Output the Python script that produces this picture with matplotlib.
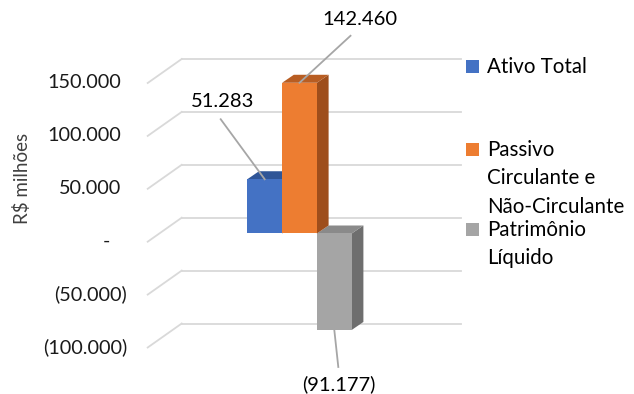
import matplotlib
matplotlib.use('Agg')
import matplotlib.pyplot as plt
from matplotlib.patches import Polygon, Rectangle

plt.rcParams['font.family'] = ['Lato', 'DejaVu Sans']

# dados (R$ milhões)
categorias = ['Ativo Total', 'Passivo\nCirculante e\nNão-Circulante', 'Patrimônio\nLíquido']
valores = [51283, 142460, -91177]
rotulos = ['51.283', '142.460', '(91.177)']
ticks = [150000, 100000, 50000, 0, -50000, -100000]
tick_labels = ['150.000', '100.000', '50.000', '-', '(50.000)', '(100.000)']

cor_frente = ['#4472C4', '#ED7D31', '#A5A5A5']
cor_lado = ['#2E5597', '#9E4E1C', '#6E6E6E']
cor_topo = ['#2F5597', '#B85D22', '#8A8A8A']

W, H = 634, 394
U = 50000 / 52.9          # valor por pixel
Y0 = 233.5                # linha do zero no plano das barras (px)

fig = plt.figure(figsize=(W / 100, H / 100), dpi=100)
ax = fig.add_axes([0, 0, 1, 1])
ax.set_xlim(0, W)
ax.set_ylim(-(H - Y0) * U, Y0 * U)
ax.axis('off')

# parede do fundo e piso (efeito 3D)
fundo_x0, fundo_x1 = 181.7, 460.7
fundo_dy = 15.8 * U       # fundo acima do plano das barras
prof_dx, prof_dy = -34.0, -24.0 * U
grid = '#D9D9D9'
for t, lab in zip(ticks, tick_labels):
    yb = t + fundo_dy
    ax.plot([fundo_x0, fundo_x1], [yb, yb], color=grid, lw=1.3, zorder=1)
    ax.plot([fundo_x0, fundo_x0 + prof_dx], [yb, yb + prof_dy], color=grid, lw=1.3, zorder=1)
    if t < 0:
        xr = 127
    elif t > 0:
        xr = 121
    else:
        xr = 110
    ax.text(xr, yb + prof_dy, lab, ha='right', va='center', fontsize=14.3, color='#1a1a1a')

ax.text(22, (Y0 - 178) * U, 'R$ milhões', rotation=90, ha='center', va='center',
        fontsize=13.5, color='#404040')

# barras
x0, w = 247.3, 34.8
dx, dy = 11.7, 8.0 * U
centros = [x0 + w * (i + 0.5) for i in range(len(valores))]
barras = ax.bar(centros, valores, width=w, color=cor_frente, linewidth=0)

ordem = [0, 2, 1]
for k, i in enumerate(ordem):
    v = valores[i]
    xl = centros[i] - w / 2
    xr = xl + w
    topo = max(v, 0)
    lado = Polygon([(xr, 0), (xr + dx, dy), (xr + dx, v + dy), (xr, v)],
                   closed=True, fc=cor_lado[i], ec='none', zorder=2 + 2 * k)
    cima = Polygon([(xl, topo), (xl + dx, topo + dy), (xr + dx, topo + dy), (xr, topo)],
                   closed=True, fc=cor_topo[i], ec='none', zorder=2 + 2 * k)
    ax.add_patch(lado)
    ax.add_patch(cima)
    barras[i].set_zorder(3 + 2 * k)

# rótulos de dados com linhas guia
guia = [(-44, 60), (51, 47), (4, -37)]
texto = [(-42, 78), (60, 63), (5, -54)]
for i, v in enumerate(valores):
    cx = centros[i]
    gx, gy = guia[i]
    tx, ty = texto[i]
    ax.plot([cx, cx + gx], [v, v + gy * U], color='#A6A6A6', lw=1.3, zorder=10)
    ax.text(cx + tx, v + ty * U, rotulos[i], ha='center', va='center',
            fontsize=14.5, color='#000000', zorder=11)

# legenda
leg_y = [67, 150, 230]
for i, cat in enumerate(categorias):
    yc = leg_y[i]
    ax.add_patch(Rectangle((466, (Y0 - yc - 6.5) * U), 13, 13 * U,
                           fc=cor_frente[i], ec='none', zorder=5))
    for j, linha in enumerate(cat.split('\n')):
        ax.text(487, (Y0 - yc - 28.5 * j) * U, linha, ha='left', va='center',
                fontsize=14.8, color='#000000')

fig.savefig('out.png', dpi=100)
